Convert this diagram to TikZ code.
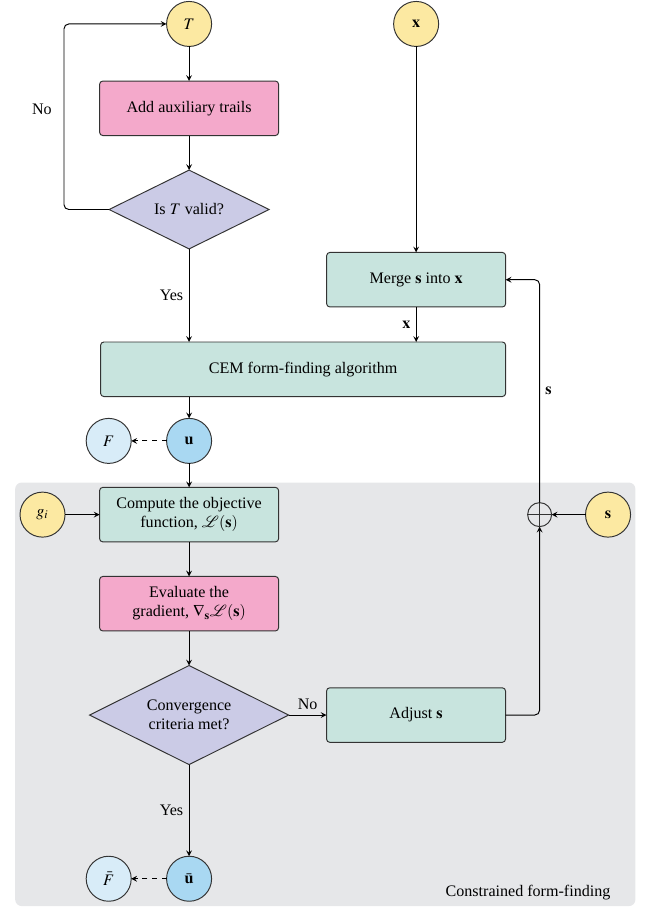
\documentclass[tikz,border=0pt]{standalone}
\usepackage{mathptmx}
\usepackage{fontspec}
\setmainfont{Liberation Serif}
\usepackage{tikz}
\usetikzlibrary{shapes,arrows,positioning,fit,backgrounds}
\newcommand{\vect}[1]{\mathbf{#1}}
\definecolor{sand}{HTML}{FCE9A2}
\definecolor{rose}{HTML}{F4A9CB}
\definecolor{lilac}{HTML}{CBCBE6}
\definecolor{mint}{HTML}{C8E4DE}
\definecolor{sky}{HTML}{A9D8F2}
\definecolor{palesky}{HTML}{D8ECF8}
\definecolor{fog}{HTML}{E6E7E9}
\definecolor{ink}{HTML}{333333}
\tikzstyle{inp} = [circle, draw=ink, line width=0.6pt, fill=sand, minimum size=28pt, inner sep=0pt, outer sep=0pt]
\tikzstyle{outp} = [circle, draw=ink, line width=0.6pt, fill=sky, minimum size=28pt, inner sep=0pt, outer sep=0pt]
\tikzstyle{forces} = [outp, fill=palesky]
\tikzstyle{procbox} = [rectangle, rounded corners=2pt, draw=ink, line width=0.6pt, fill=mint, minimum width=111.3pt, minimum height=33.9pt, align=center, outer sep=0pt]
\tikzstyle{gradbox} = [procbox, fill=rose]
\tikzstyle{decision} = [diamond, aspect=2, draw=ink, line width=0.6pt, fill=lilac, inner sep=0pt, outer sep=0pt, align=center]
\tikzstyle{sumop} = [circle, draw=ink, line width=0.6pt, minimum size=14.9pt, inner sep=0pt, outer sep=0pt]
\tikzstyle{textonly} = [draw=none, fill=none, text centered]
\tikzstyle{tedge}  = [draw, line width=0.6pt, >=stealth, ->]
\tikzstyle{dedge}  = [tedge, dashed]
\tikzstyle{constrained} = [draw=none, fill=fog, rounded corners=4pt, inner sep=3pt, outer sep=0pt]

\begin{document}
\begin{tikzpicture}
\useasboundingbox (-117.6pt,14.9pt) rectangle (286.1pt,-549.8pt);

% topology loop =============================
\node[inp] (T) at (0,0) {$T$};
\node[gradbox, below=21.5pt of T] (aux) {Add auxiliary trails};
\node[decision, minimum width=99.5pt, minimum height=49pt, below=21.5pt of aux] (valid) {Is $T$ valid?};
\coordinate (loop) at ([xshift=-77.8pt]T.center);

\path[tedge] (T) -- (aux);
\path[tedge] (aux) -- (valid);
\path[tedge, rounded corners=3pt] (valid.west) -| (loop) node[pos=0.77, left=4pt] {No} -- (T.west);

% merging and form-finding =================
\node[inp, right=113.2pt of T] (xin) {$\vect{x}$};
\node[procbox, below=128.1pt of xin] (merge) {Merge $\vect{s}$ into $\vect{x}$};
\node[procbox, minimum width=251.9pt, anchor=north east] (cem) at ([yshift=-21.8pt]merge.south east) {CEM form-finding algorithm};

\path[tedge] (xin) -- (merge);
\path[tedge] (merge.south) -- node[left] {$\vect{x}$} (merge.south |- cem.north);
\path[tedge] (valid.south) -- node[left] {Yes} (valid.south |- cem.north);

\node[outp, below=105.4pt of valid] (u) {$\vect{u}$};
\node[forces, left=22pt of u] (F) {$F$};

\path[tedge] (cem.south -| u) -- (u);
\path[dedge] (u) -- (F);

% constrained form-finding =================
\node[procbox, below=14.9pt of u] (obj) {Compute the objective\\function, $\mathcal{L}(\vect{s})$};
\node[inp, left=21.5pt of obj] (g) {$g_i$};
\node[gradbox, below=21.5pt of obj] (grad) {Evaluate the\\gradient, $\nabla_{\vect{s}}\mathcal{L}(\vect{s})$};
\node[decision, minimum width=123.8pt, minimum height=61.6pt, below=21.5pt of grad] (conv) {Convergence\\criteria met?};
\node[procbox, right=23.6pt of conv] (adjust) {Adjust $\vect{s}$};
\node[outp, below=57pt of conv] (ubar) {$\bar{\vect{u}}$};
\node[forces, left=22pt of ubar] (Fbar) {$\bar{F}$};
\node[sumop, right=154.9pt of obj] (sum) {};
\node[inp, right=21.1pt of sum] (sin) {$\vect{s}$};

%% grey frame behind the loop
\begin{scope}[on background layer]
\node[constrained, fit=(g)(obj)(sin)(ubar)(Fbar)] (frame) {};
\end{scope}
\node[textonly, anchor=south east] (framelabel) at ([xshift=-12pt,yshift=0pt]frame.south east) {Constrained form-finding};

% edges in the loop
\path[tedge] (u) -- (obj);
\path[tedge] (g) -- (obj);
\path[tedge] (obj) -- (grad);
\path[tedge] (grad) -- (conv);
\path[tedge] (conv) -- node[above] {No} (adjust);
\path[tedge] (conv) -- node[left] {Yes} (ubar);
\path[dedge] (ubar) -- (Fbar);
\path[tedge] (sin) -- (sum);
\path[tedge, rounded corners=3pt] (adjust.east) -| (sum.south);
\path[tedge, rounded corners=3pt] (sum.north) |- node[pos=0.25, right] {$\vect{s}$} (merge.east);
\draw[ink, line width=0.6pt] (sum.north) -- (sum.south) (sum.west) -- (sum.east);

\end{tikzpicture}
\end{document}
